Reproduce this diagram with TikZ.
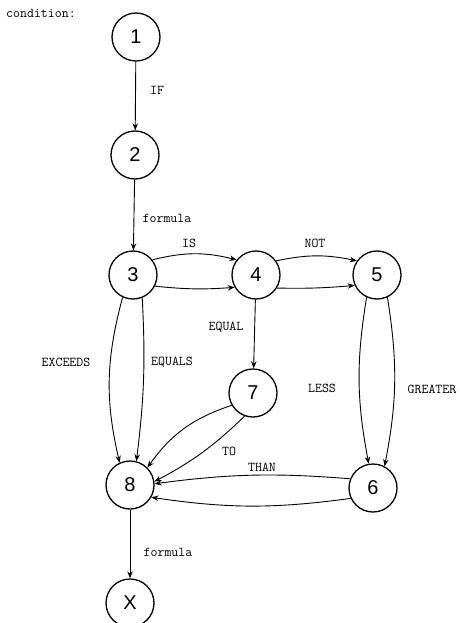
\documentclass[tikz,border=0pt]{standalone}
\usepackage{fontspec}
\newfontfamily\numfont{Liberation Sans}
\usetikzlibrary{arrows.meta}
\begin{document}
\begin{tikzpicture}[x=1pt,y=-1pt,
  state/.style={circle,draw,line width=1.3pt,minimum size=48pt,inner sep=0pt,font=\numfont\fontsize{20}{20}\selectfont},
  arr/.style={line width=0.9pt,-{Stealth[length=7pt,width=5.5pt]}},
  lab/.style={font=\ttfamily\fontsize{13.5}{14}\selectfont,inner sep=0pt}]
\useasboundingbox (0,0) rectangle (459,623);
\node[state] (n1) at (136,37) {1};
\node[state] (n2) at (135,155) {2};
\node[state] (n3) at (133,275) {3};
\node[state] (n4) at (256,275) {4};
\node[state] (n5) at (377,275) {5};
\node[state] (n7) at (253,393) {7};
\node[state] (n8) at (130,485) {8};
\node[state] (n6) at (373,488) {6};
\node[state] (nx) at (130,603) {X};

\node[lab,anchor=west] (tcond) at (6,13) {condition:};
\node[lab] (tif) at (157,90) {IF};
\node[lab] (tf1) at (167,218) {formula};
\node[lab] (tis) at (189,243) {IS};
\node[lab] (tnot) at (315,243) {NOT};
\node[lab] (teq) at (226,327) {EQUAL};
\node[lab] (texc) at (66,362) {EXCEEDS};
\node[lab] (teqs) at (172,362) {EQUALS};
\node[lab] (tless) at (322,388) {LESS};
\node[lab] (tgr) at (432,389) {GREATER};
\node[lab] (tto) at (229,451) {TO};
\node[lab] (tthan) at (262,467) {THAN};
\node[lab] (tf2) at (168,552) {formula};

\draw[arr] (n1) -- (n2);
\draw[arr] (n2) -- (n3);
\draw[arr] (n3.38) to[bend left=14] (n4.142);
\draw[arr] (n3.-27) to[bend right=5] (n4.-150);
\draw[arr] (n4.35) to[bend left=12] (n5.145);
\draw[arr] (n4.-32) to[bend right=3] (n5.-155);
\draw[arr] (n4) -- (n7);
\draw[arr] (n3.-115) to[bend right=14] (n8.115);
\draw[arr] (n3.-68) to[bend left=5] (n8.75);
\draw[arr] (n5.-115) to[bend right=10] (n6.100);
\draw[arr] (n5.-65) to[bend left=10] (n6.62);
\draw[arr] (n7.-150) to[bend right=18] (n8.45);
\draw[arr] (n7.-110) to[bend left=8] (n8.8);
\draw[arr] (n6.158) to[bend right=6] (n8.3);
\draw[arr] (n6.-155) to[bend left=8] (n8.-30);
\draw[arr] (n8) -- (nx);
\end{tikzpicture}
\end{document}
